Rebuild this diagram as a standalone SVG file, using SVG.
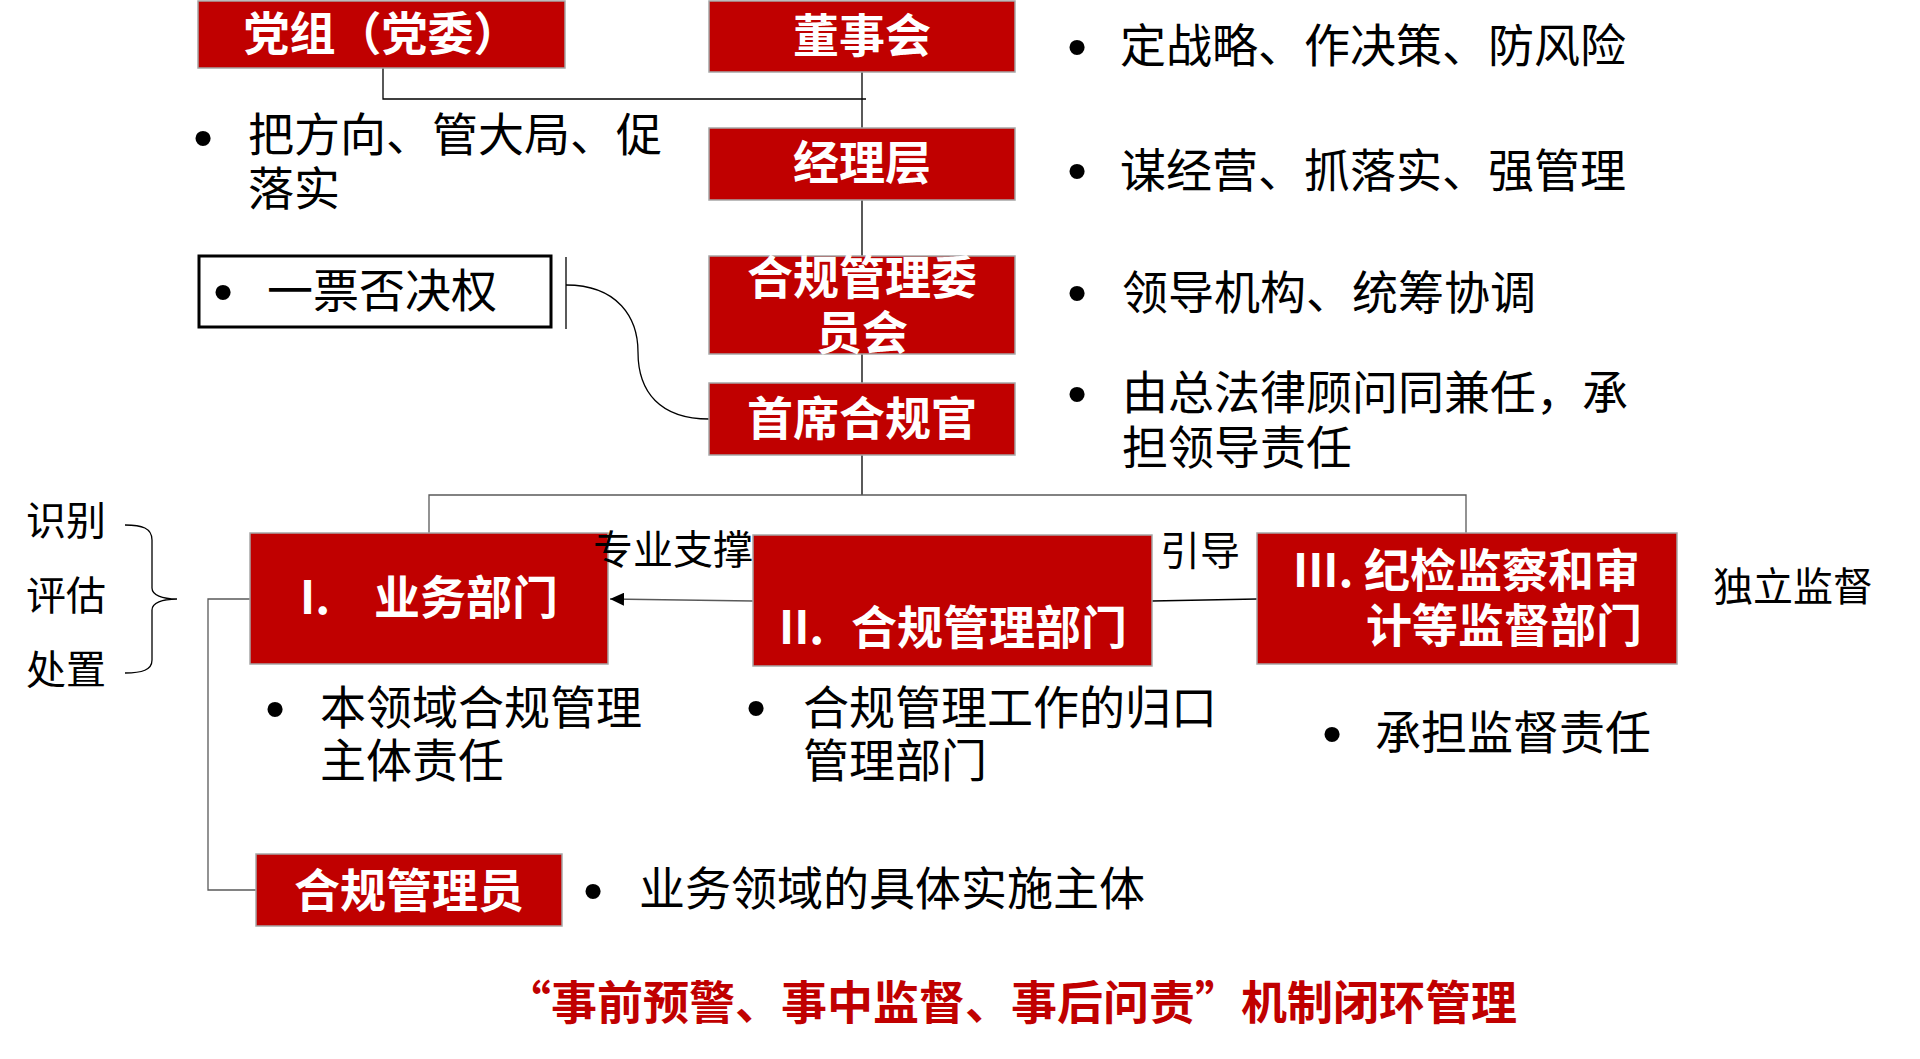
<svg xmlns="http://www.w3.org/2000/svg" width="1920" height="1059" viewBox="0 0 1920 1059">
<style>
.box{fill:#C00000;stroke:#A6A6A6;stroke-width:1.5}
.lbl{font-family:'Noto Sans CJK SC','Noto Sans',sans-serif;font-weight:bold;font-size:46px;fill:#FFFFFF}
.txt{font-family:'Noto Sans CJK SC','Noto Sans',sans-serif;font-size:46px;fill:#000000}
.side{font-family:'Noto Sans CJK SC','Noto Sans',sans-serif;font-size:40px;fill:#000000}
.bul{font-family:'Liberation Sans',sans-serif;font-size:56px;fill:#000000;text-anchor:middle}
.ln{fill:none;stroke:#000000;stroke-width:1.3}
.gl{fill:none;stroke:#595959;stroke-width:1.3}
.title{font-family:'Noto Sans CJK SC','Noto Sans',sans-serif;font-weight:bold;font-size:46px;fill:#C00000}
</style>
<defs>
<marker id="arr" markerUnits="userSpaceOnUse" markerWidth="14" markerHeight="13" refX="14" refY="6.5" orient="auto">
<path d="M0,0 L14,6.5 L0,13 z" fill="#000000"/>
</marker>
</defs>
<rect width="1920" height="1059" fill="#FFFFFF"/>

<g id="connectors">
<path class="ln" d="M383,68 V99 H866"/>
<path class="ln" d="M862,72 V128"/>
<path class="ln" d="M862,200 V256"/>
<path class="ln" d="M862,354 V383"/>
<path class="ln" d="M862,455 V495"/>
<path class="gl" d="M429,533 V495 H1466 V533"/>
<path class="ln" d="M566,257 V329"/>
<path class="ln" d="M566,285 C618,285 638,318 638,352 C638,392 660,419 709,419"/>
<path class="gl" d="M753,601 L610,599" marker-end="url(#arr)"/>
<path class="ln" d="M1152,601 L1257,599"/>
<path class="gl" d="M250,599 H208 V890 H256"/>
<path class="ln" d="M125,525 C142,525 152,528 152,540 V588 C152,595 162,599 177,599 C162,599 152,603 152,610 V660 C152,670 142,673 125,673"/>
</g>

<g id="dangzu">
<rect class="box" x="198" y="1" width="367" height="67"/>
<text class="lbl" x="381.5" y="50" text-anchor="middle">党组（党委）</text>
</g>
<g id="dangzu-note">
<text class="bul" x="203" y="157">•</text>
<text class="txt" x="248" y="151">把方向、管大局、促</text>
<text class="txt" x="248" y="205">落实</text>
</g>

<g id="dongshihui">
<rect class="box" x="709" y="1" width="306" height="71"/>
<text class="lbl" x="862" y="52" text-anchor="middle">董事会</text>
</g>
<g id="dongshihui-note">
<text class="bul" x="1077" y="66">•</text>
<text class="txt" x="1120" y="62">定战略、作决策、防风险</text>
</g>

<g id="jinglichen">
<rect class="box" x="709" y="128" width="306" height="72"/>
<text class="lbl" x="862" y="179" text-anchor="middle">经理层</text>
</g>
<g id="jinglichen-note">
<text class="bul" x="1077" y="190">•</text>
<text class="txt" x="1120" y="187">谋经营、抓落实、强管理</text>
</g>

<g id="veto">
<rect x="199" y="256" width="352" height="71" fill="#FFFFFF" stroke="#000000" stroke-width="3"/>
<text class="bul" x="223" y="311">•</text>
<text class="txt" x="267" y="307">一票否决权</text>
</g>

<g id="weiyuanhui">
<rect class="box" x="709" y="256" width="306" height="98"/>
<text class="lbl" x="862" y="294" text-anchor="middle">合规管理委</text>
<text class="lbl" x="862" y="349" text-anchor="middle">员会</text>
</g>
<g id="weiyuanhui-note">
<text class="bul" x="1077" y="312">•</text>
<text class="txt" x="1122" y="309">领导机构、统筹协调</text>
</g>

<g id="shouxi">
<rect class="box" x="709" y="383" width="306" height="72"/>
<text class="lbl" x="862" y="435" text-anchor="middle">首席合规官</text>
</g>
<g id="shouxi-note">
<text class="bul" x="1077" y="413">•</text>
<text class="txt" x="1122" y="409">由总法律顾问同兼任，承</text>
<text class="txt" x="1122" y="464">担领导责任</text>
</g>

<g id="side-labels">
<text class="side" x="26" y="535">识别</text>
<text class="side" x="26" y="610">评估</text>
<text class="side" x="26" y="684">处置</text>
</g>

<g id="yewu">
<rect class="box" x="250" y="533" width="358" height="131"/>
<text class="lbl" y="614"><tspan x="300">I.</tspan><tspan x="374">业务部门</tspan></text>
</g>
<g id="yewu-note">
<text class="bul" x="275" y="728">•</text>
<text class="txt" x="320" y="724">本领域合规管理</text>
<text class="txt" x="320" y="777">主体责任</text>
</g>

<text id="support-label" class="side" x="593" y="564">专业支撑</text>

<g id="heguibumen">
<rect class="box" x="753" y="535" width="399" height="131"/>
<text class="lbl" y="644"><tspan x="779">II.</tspan><tspan x="851">合规管理部门</tspan></text>
</g>
<g id="heguibumen-note">
<text class="bul" x="756" y="727">•</text>
<text class="txt" x="803" y="724">合规管理工作的归口</text>
<text class="txt" x="803" y="777">管理部门</text>
</g>

<text id="guide-label" class="side" x="1160" y="565">引导</text>

<g id="jianduebumen">
<rect class="box" x="1257" y="533" width="420" height="131"/>
<text class="lbl" y="587"><tspan x="1293">III.</tspan><tspan x="1364">纪检监察和审</tspan></text>
<text class="lbl" x="1366" y="642">计等监督部门</text>
</g>
<text id="independent-label" class="side" x="1713" y="601">独立监督</text>
<g id="jianduebumen-note">
<text class="bul" x="1332" y="753">•</text>
<text class="txt" x="1375" y="749">承担监督责任</text>
</g>

<g id="heguiyuan">
<rect class="box" x="256" y="854" width="306" height="72"/>
<text class="lbl" x="409" y="907" text-anchor="middle">合规管理员</text>
</g>
<g id="heguiyuan-note">
<text class="bul" x="593" y="910">•</text>
<text class="txt" x="639" y="905">业务领域的具体实施主体</text>
</g>

<text id="title" class="title" x="505" y="1019">“事前预警、事中监督、事后问责”机制闭环管理</text>
</svg>
